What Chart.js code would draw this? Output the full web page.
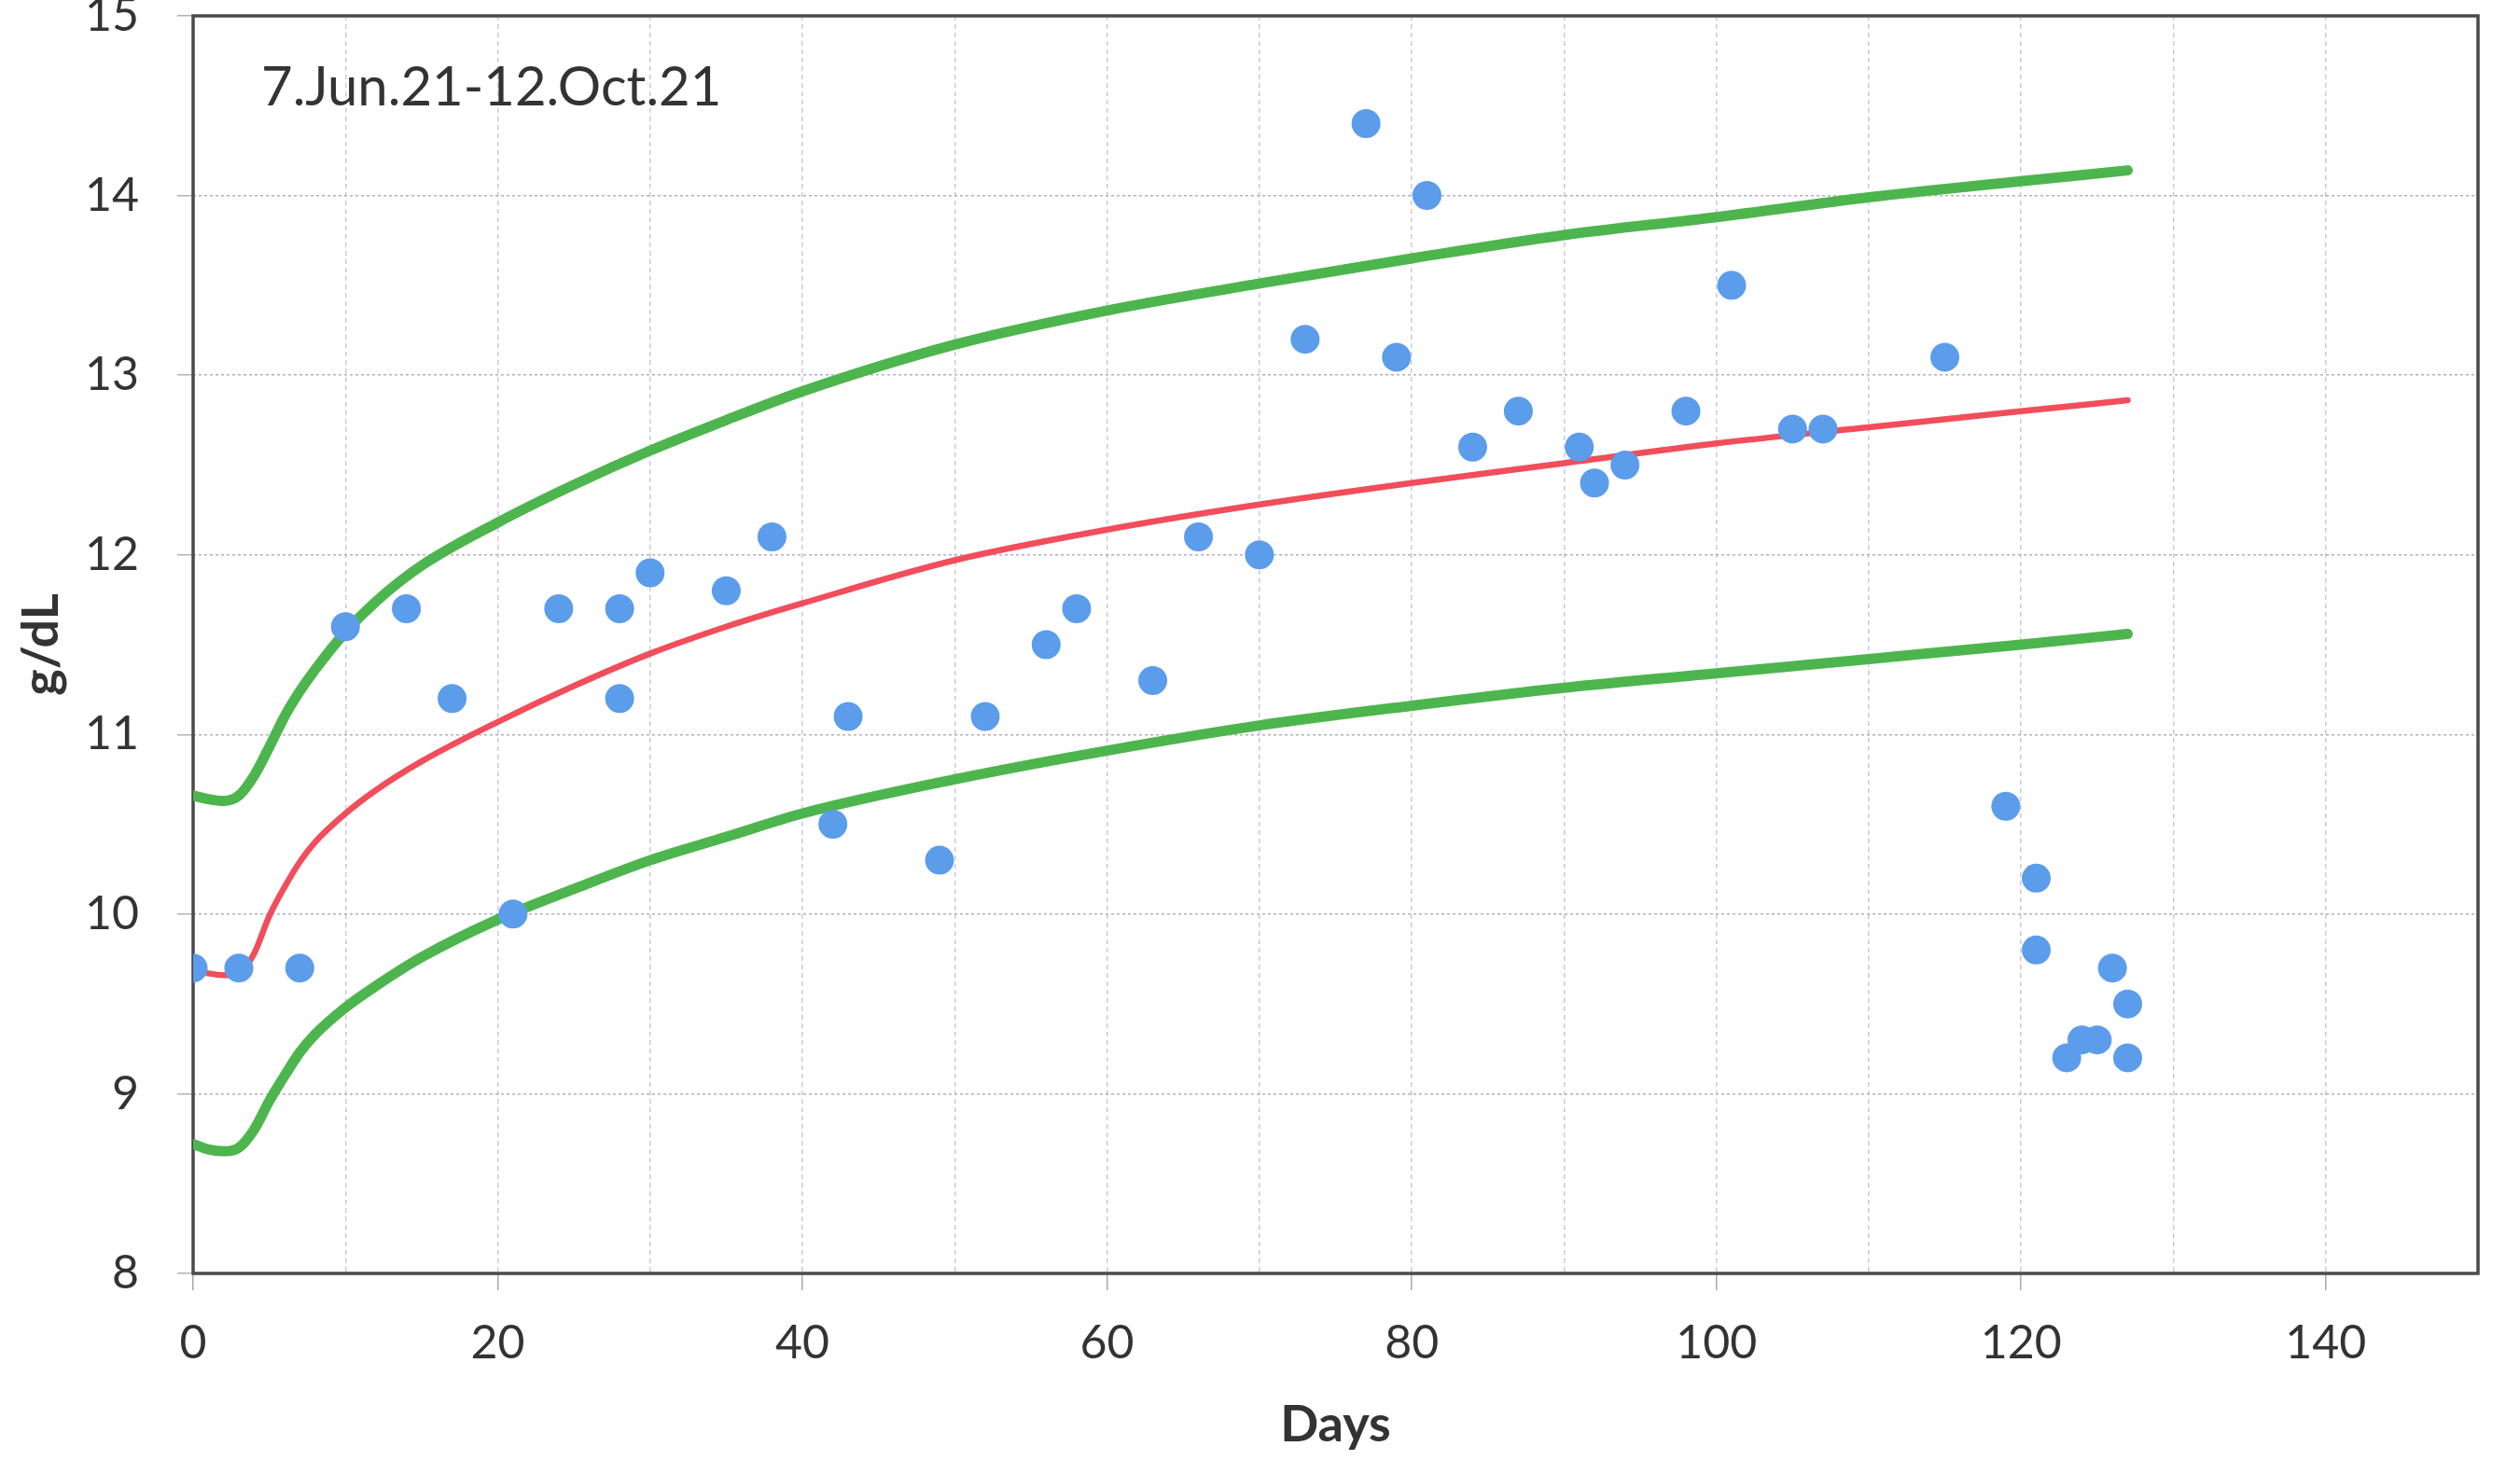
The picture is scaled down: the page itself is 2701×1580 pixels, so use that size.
<!DOCTYPE html>
<html>
<head>
<meta charset="utf-8">
<script src="https://cdn.jsdelivr.net/npm/chart.js@4.4.1/dist/chart.umd.min.js"></script>
<style>
  html, body { margin: 0; padding: 0; background: #ffffff; }
  #wrap { width: 2701px; height: 1580px; }
</style>
</head>
<body>
<div id="wrap"><canvas id="c" width="2701" height="1580"></canvas></div>
<script>
// ---- data ----
const rangeLabel = '7.Jun.21-12.Oct.21';
const xTitle = 'Days';
const yTitle = 'g/dL';

const pointDays = [0,3,7,10,14,17,21,24,28,28,30,35,38,42,43,49,52,56,58,63,66,70,73,77,79,81,84,87,91,92,94,98,101,105,107,115,119,121,121,123,124,125,126,127,127];
const pointValues = [9.7,9.7,9.7,11.6,11.7,11.2,10.0,11.7,11.7,11.2,11.9,11.8,12.1,10.5,11.1,10.3,11.1,11.5,11.7,11.3,12.1,12.0,13.2,14.4,13.1,14.0,12.6,12.8,12.6,12.4,12.5,12.8,13.5,12.7,12.7,13.1,10.6,10.2,9.8,9.2,9.3,9.3,9.7,9.5,9.2];

const curveDays = [0,1,2,3,4,5,6,7,8,10,12,15,20,25,30,35,40,50,60,70,80,90,100,110,120,127];
const upperValues = [10.66,10.64,10.63,10.66,10.77,10.93,11.10,11.24,11.36,11.57,11.74,11.94,12.18,12.39,12.58,12.75,12.91,13.17,13.36,13.51,13.65,13.78,13.88,13.99,14.08,14.14];
const medianValues = [9.69,9.67,9.66,9.67,9.78,9.99,10.15,10.29,10.40,10.56,10.69,10.85,11.07,11.27,11.45,11.60,11.73,11.97,12.14,12.28,12.40,12.51,12.62,12.71,12.80,12.86];
const lowerValues = [8.72,8.69,8.68,8.70,8.80,8.96,9.10,9.23,9.33,9.48,9.60,9.76,9.97,10.14,10.30,10.43,10.56,10.75,10.91,11.05,11.16,11.26,11.34,11.42,11.50,11.56];

const xMin = 0, xMax = 150, xStep = 10, xLabelStep = 20;
const yMin = 8, yMax = 15, yStep = 1;

// ---- build ----
const toXY = (xs, ys) => xs.map((x, i) => ({ x: x, y: ys[i] }));

const framePlugin = {
  id: 'frame',
  beforeDatasetsDraw(chart) {
    const { ctx, chartArea: a } = chart;
    ctx.save();
    ctx.strokeStyle = '#4a4a4a';
    ctx.lineWidth = 3.5;
    ctx.strokeRect(a.left, a.top, a.right - a.left, a.bottom - a.top);
    ctx.restore();
  }
};

const labelPlugin = {
  id: 'rangeLabel',
  afterDraw(chart) {
    const { ctx, chartArea: a } = chart;
    ctx.save();
    ctx.font = '400 58px Lato';
    ctx.fillStyle = '#333333';
    ctx.textAlign = 'left';
    ctx.textBaseline = 'alphabetic';
    ctx.fillText(rangeLabel, a.left + 73, a.top + 96);
    ctx.restore();
  }
};

const tickFont = { family: 'Lato', size: 50 };
const titleFont = { family: 'Lato', size: 54, weight: 'bold' };

new Chart(document.getElementById('c'), {
  type: 'scatter',
  data: {
    datasets: [
      {
        label: 'measured',
        data: toXY(pointDays, pointValues),
        backgroundColor: '#5B9CEB',
        borderColor: '#5B9CEB',
        borderWidth: 0,
        pointRadius: 15.5,
        pointHoverRadius: 15.5,
        showLine: false
      },
      {
        label: 'median',
        data: toXY(curveDays, medianValues),
        showLine: true,
        borderColor: '#F14D5B',
        borderWidth: 6.5,
        pointRadius: 0,
        cubicInterpolationMode: 'monotone',
        borderCapStyle: 'round',
        borderJoinStyle: 'round',
        fill: false
      },
      {
        label: 'upper',
        data: toXY(curveDays, upperValues),
        showLine: true,
        borderColor: '#4DB54D',
        borderWidth: 11,
        pointRadius: 0,
        cubicInterpolationMode: 'monotone',
        borderCapStyle: 'round',
        borderJoinStyle: 'round',
        fill: false
      },
      {
        label: 'lower',
        data: toXY(curveDays, lowerValues),
        showLine: true,
        borderColor: '#4DB54D',
        borderWidth: 11,
        pointRadius: 0,
        cubicInterpolationMode: 'monotone',
        borderCapStyle: 'round',
        borderJoinStyle: 'round',
        fill: false
      }
    ]
  },
  options: {
    responsive: false,
    animation: false,
    devicePixelRatio: 1,
    layout: { padding: { top: 17, right: 45, bottom: 0, left: 0 } },
    plugins: {
      legend: { display: false },
      tooltip: { enabled: false },
      title: { display: false }
    },
    scales: {
      x: {
        type: 'linear',
        min: xMin,
        max: xMax,
        ticks: {
          stepSize: xStep,
          autoSkip: false,
          maxRotation: 0,
          padding: 27,
          color: '#333333',
          font: tickFont,
          callback: v => (v % xLabelStep === 0 && v < xMax) ? String(v) : ''
        },
        grid: {
          color: '#c9cad8',
          lineWidth: 1.5,
          tickLength: 18,
          tickWidth: 1.5,
          tickColor: c => (c.tick && c.tick.value % xLabelStep === 0 && c.tick.value < xMax) ? '#a8a6b6' : 'rgba(0,0,0,0)'
        },
        border: { display: false, dash: [5, 4] },
        title: {
          display: true,
          text: xTitle,
          color: '#333333',
          font: titleFont,
          padding: { top: 0, bottom: 20 }
        },
        afterFit: s => { s.height = 215; s.paddingLeft = 0; s.paddingRight = 0; }
      },
      y: {
        type: 'linear',
        min: yMin,
        max: yMax,
        ticks: {
          stepSize: yStep,
          padding: 41,
          color: '#333333',
          font: tickFont
        },
        grid: {
          color: '#b4aec2',
          lineWidth: 1.5,
          tickLength: 17,
          tickWidth: 1.5
        },
        border: { display: false, dash: [3, 3] },
        title: {
          display: true,
          text: yTitle,
          color: '#333333',
          font: titleFont,
          padding: { top: 12, bottom: 0 }
        },
        afterFit: s => { s.width = 207; s.paddingTop = 0; s.paddingBottom = 0; }
      }
    }
  },
  plugins: [framePlugin, labelPlugin]
});
</script>
</body>
</html>
